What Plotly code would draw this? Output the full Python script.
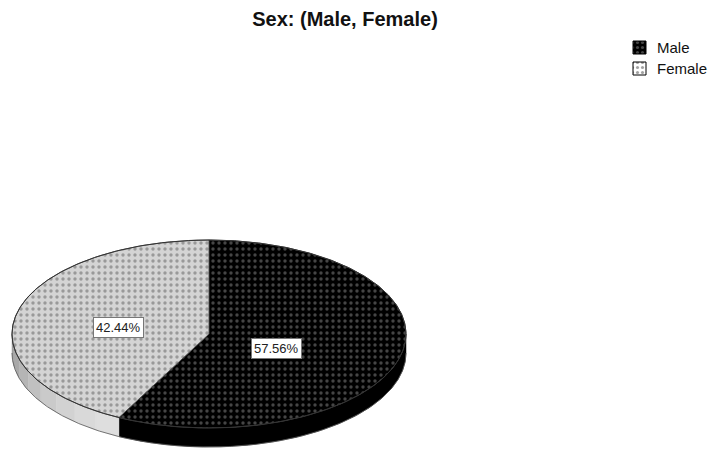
import numpy as np
import plotly.graph_objects as go

# ---- data ----
categories = ["Male", "Female"]
percentages = [57.56, 42.44]
title_text = "Sex: (Male, Female)"

# ---- style / geometry (pixel space) ----
W, H = 712, 450
CX, CY, RX, RY, DEPTH = 209, 334, 197, 94, 19
FONT = "Liberation Sans, Arial, sans-serif"

styles = {
    "Male": dict(bg="#000000", fg="#8a8a8a", side=["#000000"]),
    "Female": dict(bg="#d4d4d4", fg="#5e5e5e",
                   side=["#9c9c9c", "#a9a9a9", "#b5b5b5", "#c0c0c0",
                         "#cacaca", "#d2d2d2", "#d9d9d9", "#dedede"]),
}
label_pos = {"Male": (276, 348), "Female": (118, 327)}
legend_pos = {"Male": (633, 41), "Female": (633, 62)}


def pt(theta, dy=0.0):
    t = np.radians(theta)
    return CX + RX * np.sin(t), CY - RY * np.cos(t) + dy


def arc(a0, a1, dy=0.0, n=None):
    if n is None:
        n = max(2, int(abs(a1 - a0) * 2))
    th = np.linspace(a0, a1, n)
    xs, ys = pt(th, dy)
    return list(xs), list(ys)


fig = go.Figure()

total = sum(percentages)
angles = []
a = 0.0
for cat, v in zip(categories, percentages):
    a1 = a + v / total * 360.0
    angles.append((cat, v, a, a1))
    a = a1

# side walls (front half only: 90..270 deg clockwise from top)
for cat, v, a0, a1 in angles:
    s0, s1 = max(a0, 90.0), min(a1, 270.0)
    if s1 <= s0:
        continue
    cols = styles[cat]["side"]
    nb = len(cols)
    edges = np.linspace(s1, s0, nb + 1)
    for i, col in enumerate(cols):
        b0, b1 = sorted((edges[i], edges[i + 1]))
        tx, ty = arc(b0, b1)
        bx, by = arc(b1, b0, dy=DEPTH)
        fig.add_trace(go.Scatter(
            x=tx + bx + [tx[0]], y=ty + by + [ty[0]],
            mode="lines", fill="toself", fillcolor=col,
            line=dict(color=col, width=0.5),
            hoverinfo="skip", showlegend=False))
    bx, by = arc(s0, s1, dy=DEPTH)
    fig.add_trace(go.Scatter(x=bx, y=by, mode="lines",
                             line=dict(color="#555555", width=0.8),
                             hoverinfo="skip", showlegend=False))

# top surfaces
for cat, v, a0, a1 in angles:
    st = styles[cat]
    ax_, ay_ = arc(a0, a1)
    xs = [CX] + ax_ + [CX]
    ys = [CY] + ay_ + [CY]
    fig.add_trace(go.Scatter(
        x=xs, y=ys, mode="lines", fill="toself", fillcolor=st["bg"],
        fillpattern=dict(shape=".", bgcolor=st["bg"], fgcolor=st["fg"],
                         size=6, solidity=0.25, fillmode="overlay"),
        line=dict(color="#3a3a3a", width=0.8),
        hoverinfo="skip", showlegend=False, name=cat))

# outline of top ellipse
ex, ey = arc(0, 360, n=720)
fig.add_trace(go.Scatter(x=ex, y=ey, mode="lines",
                         line=dict(color="#333333", width=1),
                         hoverinfo="skip", showlegend=False))

# value labels
for cat, v, a0, a1 in angles:
    lx, ly = label_pos[cat]
    fig.add_annotation(x=lx, y=ly, xref="x", yref="y", text=f"{v:.2f}%",
                       showarrow=False, bgcolor="white", bordercolor="#777777",
                       borderwidth=1, borderpad=2,
                       font=dict(family=FONT, size=13, color="#222222"))

# manual legend
for cat in categories:
    st = styles[cat]
    lx, ly = legend_pos[cat]
    s = 13
    is_m = cat == "Male"
    fig.add_trace(go.Scatter(
        x=[lx, lx + s, lx + s, lx, lx], y=[ly, ly, ly + s, ly + s, ly],
        mode="lines", fill="toself", fillcolor=st["bg"] if is_m else "#ffffff",
        fillpattern=dict(shape=".", bgcolor=st["bg"] if is_m else "#ffffff",
                         fgcolor="#8a8a8a" if is_m else "#444444",
                         size=5, solidity=0.3, fillmode="overlay"),
        line=dict(color="#000000", width=1),
        hoverinfo="skip", showlegend=False))
    fig.add_annotation(x=lx + s + 9, y=ly + s / 2, xref="x", yref="y", text=cat,
                       showarrow=False, xanchor="left", yanchor="middle",
                       font=dict(family=FONT, size=15, color="#111111"))

fig.update_layout(
    width=W, height=H,
    margin=dict(l=0, r=0, t=0, b=0),
    paper_bgcolor="white", plot_bgcolor="white",
    title=dict(text=title_text, x=345 / W, y=1 - 19 / H,
               xanchor="center", yanchor="middle",
               font=dict(family=FONT, size=20, color="#111111", weight="bold")),
    xaxis=dict(range=[0, W], visible=False, fixedrange=True),
    yaxis=dict(range=[H, 0], visible=False, fixedrange=True),
    showlegend=False,
    hovermode=False,
)

fig.write_html("out.html")
